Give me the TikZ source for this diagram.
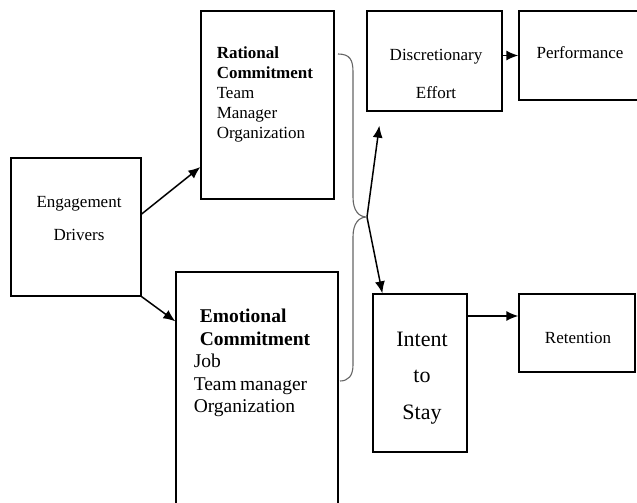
\documentclass[tikz,border=0pt]{standalone}
\usepackage{fontspec}
\setmainfont{Liberation Serif}
\usetikzlibrary{arrows.meta}

\begin{document}
\begin{tikzpicture}[x=1pt,y=-1pt,line width=1.5pt,>={Latex[length=12pt,width=10pt]},
  box/.style={draw,line width=1.3pt,inner sep=0pt},
  txt/.style={inner sep=0pt,align=center,font=\fontsize{17}{20}\selectfont}]
  \useasboundingbox (0,0) rectangle (637,503);
  % boxes
  \node[box,minimum width=130pt,minimum height=138pt] (drivers) at (76,227){};
  \node[box,minimum width=133pt,minimum height=188pt] (rational) at (267.5,105){};
  \node[box,minimum width=162pt,minimum height=248pt] (emotional) at (257,396){};
  \node[box,minimum width=135pt,minimum height=100pt] (effort) at (434.5,61){};
  \node[box,minimum width=126pt,minimum height=89pt] (perf) at (582,55.5){};
  \node[box,minimum width=94pt,minimum height=158pt] (stay) at (420,373){};
  \node[box,minimum width=116pt,minimum height=78pt] (retention) at (577,333){};
  % texts
  \node[txt,font=\fontsize{17}{33}\selectfont] (driverstxt) at (79,219){Engagement\\Drivers};
  \node[txt,align=left,anchor=west] (rationaltxt) at (216,94){\textbf{Rational}\\\textbf{Commitment}\\Team\\Manager\\Organization};
  \node[txt,align=left,anchor=west,font=\fontsize{19.5}{22.5}\selectfont] (emotionaltxt) at (193,363){\hspace*{6pt}\textbf{Emotional}\\\hspace*{6pt}\textbf{Commitment}\\Job\\Team\,manager\\Organization};
  \node[txt,font=\fontsize{17}{38}\selectfont] (efforttxt) at (436,74){Discretionary\\Effort};
  \node[txt] (perftxt) at (580,53){Performance};
  \node[txt,font=\fontsize{22}{36.5}\selectfont] (staytxt) at (422,378){Intent\\to\\Stay};
  \node[txt] (rettxt) at (578,338){Retention};
  % arrows
  \draw[->] ([yshift=13pt]drivers.east) -- ([yshift=-62pt]rational.west);
  \draw[->] (drivers.south east) -- ([yshift=-50pt]emotional.north west);
  \coordinate (cusp) at (367,217);
  \draw[->] (cusp) -- ([xshift=13pt,yshift=-14pt]effort.south west);
  \draw[->] (cusp) -- ([xshift=10pt]stay.north west);
  \draw[->] (effort.east |- perf.west) -- (perf.west);
  \coordinate (ret) at ([yshift=17pt]retention.west);
  \draw[->] (stay.east |- ret) -- (ret);
  % brace
  \draw[line width=1.1pt,black!60] (338,54) .. controls (350,54) and (353,60) .. (353,72) -- (353,197)
    .. controls (353,211) and (359,217) .. (cusp) .. controls (359,217) and (353,223) .. (353,237)
    -- (353,365) .. controls (353,376) and (348,381) .. (340,381);
\end{tikzpicture}
\end{document}
